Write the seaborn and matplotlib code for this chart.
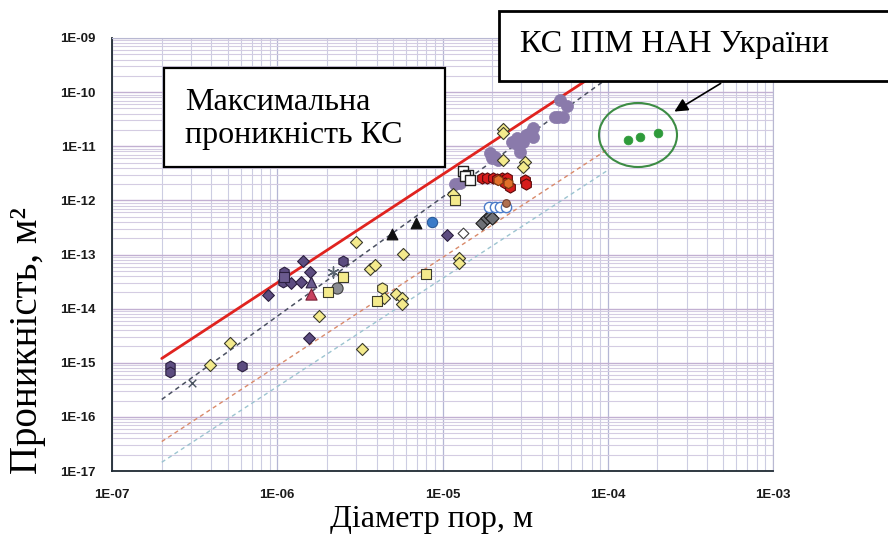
import numpy as np
import pandas as pd
import matplotlib
matplotlib.use("Agg")
import matplotlib.pyplot as plt
import seaborn as sns
from matplotlib.ticker import LogLocator, FuncFormatter, NullFormatter
from matplotlib.patches import Rectangle, Ellipse, FancyArrowPatch

# ---------------- data: pore diameter (m) vs permeability (m^2) ----------------
# reference lines (end points)
max_line_d = [2e-7, 1e-4]
max_line_k = [1.2e-15, 3.0e-10]
fit_line_d = [2e-7, 1.2e-4]
fit_line_k = [2.1e-16, 2.7e-10]
low_line1_d = [2e-7, 1e-4]
low_line1_k = [3.5e-17, 8.8e-12]
low_line2_d = [2e-7, 1e-4]
low_line2_k = [1.45e-17, 3.6e-12]

purple_dia_d = [8.8e-7, 1.21e-6, 1.39e-6, 1.43e-6, 1.58e-6, 1.56e-6, 1.06e-5]
purple_dia_k = [1.8e-14, 3.0e-14, 3.1e-14, 7.6e-14, 4.7e-14, 2.85e-15, 2.3e-13]
purple_hex_d = [2.24e-7, 2.24e-7, 6.12e-7, 1.10e-6, 1.08e-6, 2.5e-6]
purple_hex_k = [8.7e-16, 6.7e-16, 8.7e-16, 4.7e-14, 3.1e-14, 7.6e-14]
purple_sq_d = [1.10e-6]
purple_sq_k = [3.8e-14]
purple_tri_d = [1.60e-6]
purple_tri_k = [3.1e-14]
red_tri_d = [1.60e-6]
red_tri_k = [1.85e-14]
cross_d = [3.05e-7]
cross_k = [4.2e-16]
star_d = [2.17e-6]
star_k = [4.7e-14]
gray_circ_d = [2.3e-6]
gray_circ_k = [2.45e-14]

yellow_dia_d = [3.92e-7, 5.18e-7, 1.79e-6, 3.00e-6, 3.26e-6, 3.64e-6, 3.91e-6,
                4.43e-6, 5.23e-6, 5.69e-6, 5.69e-6, 5.77e-6, 1.26e-5, 1.26e-5,
                1.16e-5, 2.32e-5, 2.32e-5, 2.32e-5, 3.16e-5, 3.07e-5]
yellow_dia_k = [8.9e-16, 2.3e-15, 7.3e-15, 1.69e-13, 1.78e-15, 5.4e-14, 6.4e-14,
                1.6e-14, 1.85e-14, 1.6e-14, 1.21e-14, 1.02e-13, 8.6e-14, 6.9e-14,
                1.3e-12, 2.08e-11, 1.75e-11, 5.56e-12, 5.1e-12, 4.2e-12]
yellow_hex_d = [4.30e-6]
yellow_hex_k = [2.45e-14]
yellow_sq_d = [2.03e-6, 2.50e-6, 4.01e-6, 7.94e-6, 1.19e-5]
yellow_sq_k = [2.02e-14, 3.8e-14, 1.38e-14, 4.3e-14, 1.0e-12]

black_tri_d = [4.95e-6, 6.92e-6]
black_tri_k = [2.38e-13, 3.9e-13]
blue_circ_d = [8.64e-6]
blue_circ_k = [3.98e-13]
white_dia_d = [1.33e-5]
white_dia_k = [2.49e-13]
gray_sq_d = [1.73e-5, 1.86e-5, 1.94e-5, 2.0e-5]
gray_sq_k = [3.9e-13, 4.7e-13, 5.1e-13, 4.7e-13]
open_circ_d = [1.91e-5, 2.08e-5, 2.23e-5, 2.42e-5]
open_circ_k = [7.5e-13, 7.5e-13, 7.5e-13, 7.5e-13]
brown_d = [2.42e-5]
brown_k = [8.9e-13]
white_sq_d = [1.33e-5, 1.43e-5, 1.37e-5, 1.47e-5]
white_sq_k = [3.55e-12, 2.94e-12, 2.82e-12, 2.37e-12]
red_hex_d = [1.73e-5, 1.86e-5, 2.02e-5, 2.29e-5, 2.46e-5, 2.39e-5, 2.56e-5,
             3.16e-5, 3.22e-5, 2.14e-5]
red_hex_k = [2.6e-12, 2.6e-12, 2.6e-12, 2.6e-12, 2.6e-12, 2.13e-12, 1.76e-12,
             2.37e-12, 2.0e-12, 2.48e-12]
orange_hex_d = [2.17e-5, 2.49e-5]
orange_hex_k = [2.37e-12, 2.13e-12]
lilac_d = [5.14e-5, 5.67e-5, 5.0e-5, 5.36e-5, 4.8e-5, 3.53e-5, 3.39e-5, 3.22e-5,
           2.82e-5, 2.63e-5, 3.07e-5, 2.86e-5, 3.53e-5, 2.94e-5, 2.94e-5,
           1.94e-5, 2.08e-5, 2.0e-5, 2.17e-5, 1.28e-5, 1.19e-5]
lilac_k = [7.1e-11, 5.5e-11, 3.5e-11, 3.5e-11, 3.5e-11, 2.17e-11, 1.75e-11, 1.61e-11,
           1.42e-11, 1.2e-11, 1.2e-11, 1.05e-11, 1.48e-11, 1.3e-11, 7.8e-12,
           7.5e-12, 6.3e-12, 6.05e-12, 5.56e-12, 2.13e-12, 2.0e-12]
green_d = [1.32e-4, 1.56e-4, 2.01e-4]
green_k = [1.3e-11, 1.48e-11, 1.75e-11]

x_ticks = [1e-7, 1e-6, 1e-5, 1e-4, 1e-3]
y_ticks = [1e-17, 1e-16, 1e-15, 1e-14, 1e-13, 1e-12, 1e-11, 1e-10, 1e-9]

# ---------------- figure ----------------
sns.set_theme(style="white")
plt.rcParams["font.family"] = ["Liberation Serif", "DejaVu Serif"]

W, H = 888, 546
fig = plt.figure(figsize=(W / 100, H / 100), dpi=100)
fig.patch.set_facecolor("white")
ax = fig.add_axes([112 / W, 1 - 471 / H, 661 / W, 433 / H])
ax.set_facecolor("white")
ax.set_xscale("log")
ax.set_yscale("log")
ax.set_xlim(1e-7, 1e-3)
ax.set_ylim(1e-17, 1e-9)

# grid
ax.xaxis.set_major_locator(LogLocator(base=10, numticks=20))
ax.yaxis.set_major_locator(LogLocator(base=10, numticks=20))
ax.xaxis.set_minor_locator(LogLocator(base=10, subs=np.arange(2, 10), numticks=50))
ax.yaxis.set_minor_locator(LogLocator(base=10, subs=np.arange(2, 10), numticks=50))
ax.xaxis.set_minor_formatter(NullFormatter())
ax.yaxis.set_minor_formatter(NullFormatter())
ax.grid(which="major", axis="x", color="#b4b6d4", lw=0.9)
ax.grid(which="minor", axis="x", color="#cccde2", lw=0.8)
ax.grid(which="major", axis="y", color="#c2b0d2", lw=1.0)
ax.grid(which="minor", axis="y", color="#d4cce2", lw=0.8)
ax.set_axisbelow(True)

fmt = FuncFormatter(lambda v, p: "1E{:03d}".format(int(round(np.log10(v)))))
ax.set_xticks(x_ticks)
ax.set_yticks(y_ticks)
ax.xaxis.set_major_formatter(fmt)
ax.yaxis.set_major_formatter(fmt)
ax.tick_params(which="both", direction="in", colors="#333333", labelsize=9.5,
               labelcolor="#1a1a1a")
ax.tick_params(which="major", length=4, width=0.8)
ax.tick_params(which="minor", length=3, width=0.6)
ax.tick_params(axis="x", pad=13)
ax.tick_params(axis="y", pad=12)
for lab in ax.get_xticklabels() + ax.get_yticklabels():
    lab.set_family(["Liberation Sans", "DejaVu Sans"])
    lab.set_weight("semibold")

for side in ["left", "bottom"]:
    ax.spines[side].set_color("#1f2a33")
    ax.spines[side].set_linewidth(1.3)
for side in ["top", "right"]:
    ax.spines[side].set_color("#b8b8d2")
    ax.spines[side].set_linewidth(0.8)

# trend lines
sns.lineplot(x=max_line_d, y=max_line_k, ax=ax, color="#e0231f", lw=2.0, zorder=3)
sns.lineplot(x=fit_line_d, y=fit_line_k, ax=ax, color="#4a5060", lw=1.1,
             linestyle=(0, (3, 2.5)), zorder=3)
sns.lineplot(x=low_line1_d, y=low_line1_k, ax=ax, color="#d98a6a", lw=1.0,
             linestyle=(0, (3, 2.5)), zorder=3)
sns.lineplot(x=low_line2_d, y=low_line2_k, ax=ax, color="#9cc4d0", lw=1.0,
             linestyle=(0, (3, 2.5)), zorder=3)

# scatter groups
def pts(xs, ys, marker, face, edge, size, lw=0.8, z=4):
    sns.scatterplot(x=xs, y=ys, ax=ax, marker=marker, color=face,
                    edgecolor=edge, s=size, linewidth=lw, zorder=z, legend=False)

pts(lilac_d, lilac_k, "o", "#8a7aab", "#8a7aab", 75, lw=0.5, z=4)
pts(purple_hex_d, purple_hex_k, "h", "#5c4c80", "#2c2040", 60)
pts(purple_dia_d, purple_dia_k, "D", "#5c4c80", "#2c2040", 36)
pts(purple_sq_d, purple_sq_k, "s", "#6a5a8e", "#2c2040", 50)
pts(purple_tri_d, purple_tri_k, "^", "#6a5a8e", "#2c2040", 60)
pts(red_tri_d, red_tri_k, "^", "#c8405e", "#7a2036", 65)
pts(cross_d, cross_k, "x", "#4a5460", "#4a5460", 30, lw=1.0)
pts(star_d, star_k, (6, 2, 0), "#5a6470", "#5a6470", 65, lw=1.0)
pts(gray_circ_d, gray_circ_k, "o", "#8a8c92", "#404040", 65)
pts(yellow_dia_d, yellow_dia_k, "D", "#f4ea8c", "#3a3a2a", 38)
pts(yellow_hex_d, yellow_hex_k, "h", "#f4ea8c", "#3a3a2a", 65)
pts(yellow_sq_d, yellow_sq_k, "s", "#f4ea8c", "#3a3a2a", 55)
pts(black_tri_d, black_tri_k, "^", "#101010", "#101010", 60)
pts(blue_circ_d, blue_circ_k, "o", "#3a7ac8", "#2a5a98", 55)
pts(white_dia_d, white_dia_k, "D", "white", "#404040", 30)
pts(gray_sq_d, gray_sq_k, "D", "#6e7076", "#202020", 45)
pts(open_circ_d, open_circ_k, "o", "white", "#4a7ac8", 55, lw=1.0)
pts(brown_d, brown_k, "o", "#b07050", "#704030", 30)
pts(white_sq_d, white_sq_k, "s", "white", "#202020", 50, lw=1.0)
pts(red_hex_d, red_hex_k, "h", "#d81c1c", "#5a0a0a", 65)
pts(orange_hex_d, orange_hex_k, "h", "#e0702a", "#7a3a10", 55)
pts(green_d, green_k, "o", "#2e9a3a", "#2e9a3a", 40, lw=0.5)

# circle around the new material points
fig.add_artist(Ellipse((638 / W, 1 - 135 / H), 78 / W, 64 / H,
                       transform=fig.transFigure, fill=False,
                       edgecolor="#3c8c44", lw=1.5, zorder=6))

# text boxes
fig.add_artist(Rectangle((164 / W, 1 - 167 / H), (445 - 164) / W, (167 - 68) / H,
                         transform=fig.transFigure, facecolor="white",
                         edgecolor="black", lw=1.6, zorder=7))
fig.text(185 / W, 1 - 110 / H, "Максимальна", fontsize=23, color="black",
         ha="left", va="baseline", zorder=8)
fig.text(185 / W, 1 - 143 / H, "проникність КС", fontsize=23, color="black",
         ha="left", va="baseline", zorder=8)

fig.add_artist(Rectangle((499 / W, 1 - 81 / H), (900 - 499) / W, (81 - 11) / H,
                         transform=fig.transFigure, facecolor="white",
                         edgecolor="black", lw=2.0, zorder=7))
fig.text(520 / W, 1 - 52 / H, "КС ІПМ НАН України", fontsize=23.2, color="black",
         ha="left", va="baseline", zorder=8)

# arrow pointing at the circled points
fig.add_artist(FancyArrowPatch(
    (723 / W, 1 - 82 / H), (672 / W, 1 - 113 / H), transform=fig.transFigure,
    arrowstyle="-|>", mutation_scale=20, color="black", lw=1.2, zorder=8))

# axis titles
fig.text(27 / W, 1 - 340 / H, "Проникність, м²", rotation=90, fontsize=28,
         ha="center", va="center", color="black")
fig.text(432 / W, 1 - 520 / H, "Діаметр пор, м", fontsize=23,
         ha="center", va="center", color="black")

fig.savefig("out.png", dpi=100)
